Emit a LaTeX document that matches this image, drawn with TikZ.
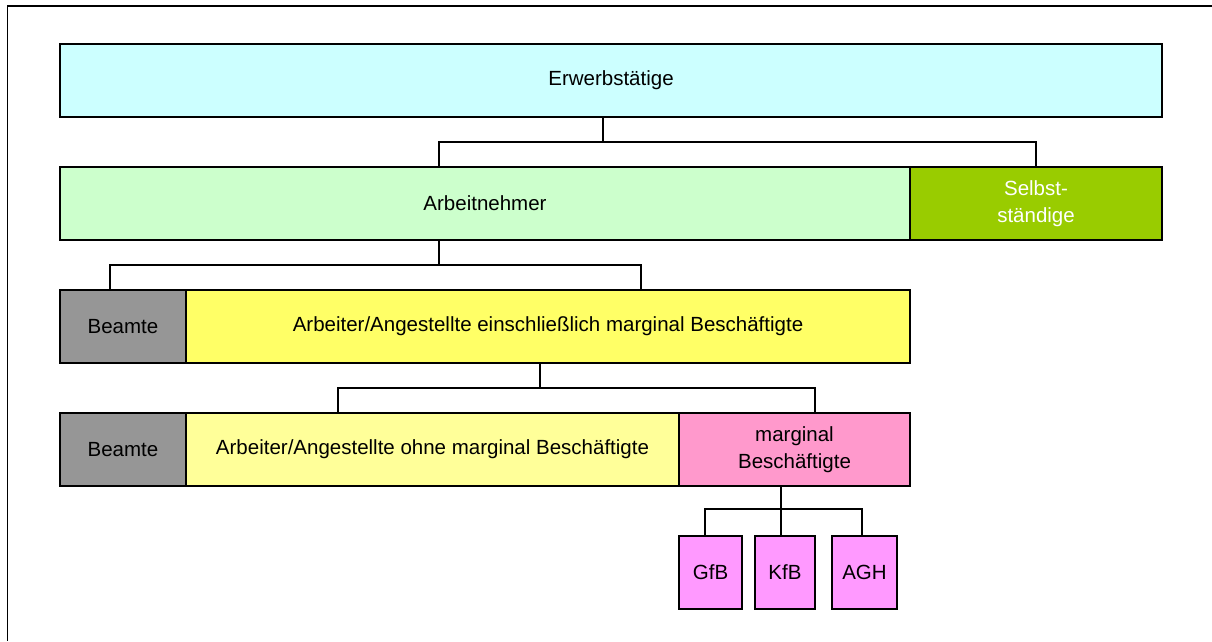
\documentclass[tikz,border=0pt]{standalone}
\usepackage{fontspec}
\setmainfont{Liberation Sans}
\definecolor{cErw}{HTML}{CCFFFF}
\definecolor{cAN}{HTML}{CCFFCC}
\definecolor{cSelb}{HTML}{99CC00}
\definecolor{cBeamte}{HTML}{969696}
\definecolor{cAA}{HTML}{FFFF66}
\definecolor{cAAo}{HTML}{FFFF99}
\definecolor{cMB}{HTML}{FF99CC}
\definecolor{cSmall}{HTML}{FF99FF}
\tikzset{
  box/.style={draw=black, line width=1.8pt, inner sep=0pt, align=center,
    font=\fontsize{20.5}{26.5}\selectfont, minimum height=73pt},
  conn/.style={draw=black, line width=1.3pt},
  frameline/.style={draw=black, line width=1.8pt}
}
\begin{document}
\begin{tikzpicture}[x=1pt,y=-1pt]
\useasboundingbox (0,0) rectangle (1212,641);
% outer frame
\coordinate (fa) at (1212,6);
\coordinate (fb) at (7.5,6);
\coordinate (fc) at (7.5,641);
\draw[frameline] (fa) -- (fb) -- (fc);
% boxes
\node[box, fill=cErw, minimum width=1102pt] (erw) at (611,80.5) {Erwerbstätige};
\node[box, fill=cAN, minimum width=850pt] (an) at (485,203.5) {Arbeitnehmer};
\node[box, fill=cSelb, minimum width=252pt, text=white] (selb) at (1036,203.5) {Selbst-\\ständige};
\node[box, fill=cBeamte, minimum width=126pt] (beamte1) at (123,326.5) {Beamte};
\node[box, fill=cAA, minimum width=724pt] (aa1) at (548,326.5) {Arbeiter/Angestellte einschließlich marginal Beschäftigte};
\node[box, fill=cBeamte, minimum width=126pt] (beamte2) at (123,449.5) {Beamte};
\node[box, fill=cAAo, minimum width=493pt] (aa2) at (432.5,449.5) {Arbeiter/Angestellte ohne marginal Beschäftigte};
\node[box, fill=cMB, minimum width=231pt] (mb) at (794.5,449.5) {marginal\\Beschäftigte};
\node[box, fill=cSmall, minimum width=63pt] (gfb) at (710.5,572.5) {GfB};
\node[box, fill=cSmall, minimum width=60pt] (kfb) at (785,572.5) {KfB};
\node[box, fill=cSmall, minimum width=65pt] (agh) at (864.5,572.5) {AGH};
% connectors level 1
\coordinate (j1) at (603,142);
\coordinate (j1l) at (439,142);
\coordinate (j1r) at (1036,142);
\draw[conn] (erw.south -| j1) -- (j1);
\draw[conn] (an.north -| j1l) -- (j1l) -- (j1r) -- (selb.north -| j1r);
% level 2
\coordinate (j2) at (439,265);
\coordinate (j2l) at (110,265);
\coordinate (j2r) at (641,265);
\draw[conn] (an.south -| j2) -- (j2);
\draw[conn] (beamte1.north -| j2l) -- (j2l) -- (j2r) -- (aa1.north -| j2r);
% level 3
\coordinate (j3) at (540,388);
\coordinate (j3l) at (338,388);
\coordinate (j3r) at (815,388);
\draw[conn] (aa1.south -| j3) -- (j3);
\draw[conn] (aa2.north -| j3l) -- (j3l) -- (j3r) -- (mb.north -| j3r);
% level 4
\coordinate (j4) at (781,509);
\coordinate (j4l) at (705,509);
\coordinate (j4r) at (862,509);
\draw[conn, line width=1.1pt] (mb.south -| j4) -- (j4) -- (kfb.north -| j4);
\draw[conn, line width=1.1pt] (gfb.north -| j4l) -- (j4l) -- (j4r) -- (agh.north -| j4r);
\end{tikzpicture}
\end{document}
